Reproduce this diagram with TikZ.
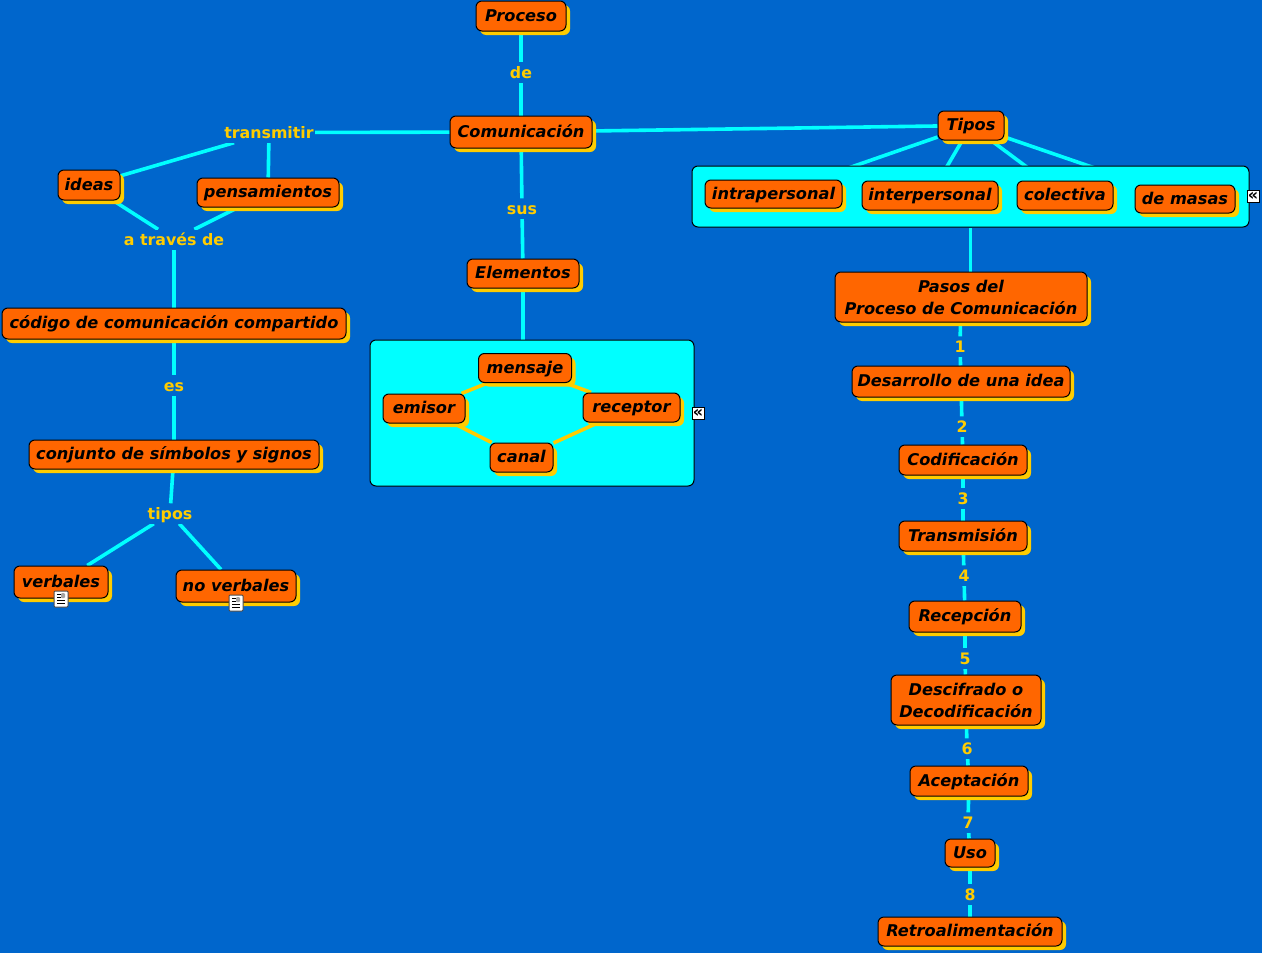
\documentclass[tikz,border=0pt]{standalone}
\usepackage{fontspec}
\setmainfont{DejaVu Sans}
\usepackage{tikz}
\usetikzlibrary{shadows}
\definecolor{bgblue}{HTML}{0066CC}
\definecolor{boxorange}{HTML}{FF6600}
\definecolor{boxgold}{HTML}{FFCC00}
\definecolor{wirecyan}{HTML}{00FFFF}
\pgfdeclarelayer{back}
\pgfdeclarelayer{panels}
\pgfdeclarelayer{inner}
\pgfsetlayers{back,panels,inner,main}
\tikzset{
    concept/.style={draw=black, fill=boxorange, rounded corners=6pt, line width=1pt, inner sep=0pt, align=center,
        text height=12.5pt, text depth=2pt,
        font=\fontsize{16.2}{22}\selectfont\bfseries\itshape, text=black,
        copy shadow={shadow xshift=4pt, shadow yshift=-4pt, fill=boxgold, draw=none}},
    twoline/.style={text height=, text depth=},
    linklabel/.style={fill=bgblue, inner xsep=1pt, inner ysep=0pt, minimum height=20pt, text=boxgold, text height=13pt, text depth=1pt,
        font=\fontsize{15.8}{18}\selectfont\bfseries},
    panel/.style={draw=black, fill=wirecyan, rounded corners=6pt, line width=1pt, inner sep=0pt},
    wire/.style={draw=wirecyan, line width=3.6pt},
    goldwire/.style={draw=boxgold, line width=3.6pt},
    collapse/.style={draw=black, fill=white, line width=1pt, minimum size=12pt, inner sep=0pt,
        font=\fontsize{16}{12}\selectfont\bfseries},
    docicon/.style={draw=black!70, fill=white, line width=1pt, minimum width=14pt, minimum height=16pt, inner sep=0pt, rounded corners=1pt,
        path picture={
            \fill[black!35] (path picture bounding box.north east) ++(-7pt,-2pt) rectangle ++(4pt,-5pt);
            \foreach \k in {3,6,9,12} \draw[black, line width=0.8pt] (path picture bounding box.north west) ++(3pt,-\k pt) -- ++(\ifnum\k<9 4\else 8\fi pt,0pt);
        }}
}
\begin{document}
\begin{tikzpicture}[x=1pt,y=-1pt]
    \path[use as bounding box] (0,0) rectangle (1262,953);
    \begin{pgfonlayer}{back}
        \fill[bgblue] (0,0) rectangle (1262,953);
    \end{pgfonlayer}

    % Center column
    \node[concept, minimum width=90pt, minimum height=30pt] (proceso) at (521,16) {Proceso};
    \node[linklabel] (de) at (521,72.5) {de};
    \node[concept, minimum width=142pt, minimum height=32pt] (comunicacion) at (521,132) {Comunicación};
    \node[linklabel] (sus) at (522,208.5) {sus};
    \node[concept, minimum width=112pt, minimum height=29pt] (elementos) at (523,273.5) {Elementos};

    % Elements box
    \begin{pgfonlayer}{panels}
        \node[panel, minimum width=324pt, minimum height=146pt] (elempanel) at (532,413) {};
    \end{pgfonlayer}
    \node[concept, minimum width=93pt, minimum height=29pt] (mensaje) at (525,368) {mensaje};
    \node[concept, minimum width=82pt, minimum height=29pt] (emisor) at (424,408.5) {emisor};
    \node[concept, minimum width=97pt, minimum height=29pt] (receptor) at (631.5,407.5) {receptor};
    \node[concept, minimum width=63pt, minimum height=29pt] (canal) at (521.5,457.5) {canal};
    \node[collapse] (elemicon) at (698,413) {«};

    % Left branch
    \node[linklabel] (transmitir) at (269,132.5) {transmitir};
    \node[concept, minimum width=62pt, minimum height=30pt] (ideas) at (89,185) {ideas};
    \node[concept, minimum width=142pt, minimum height=29pt] (pensamientos) at (268,192.5) {pensamientos};
    \node[linklabel] (atraves) at (174,239.5) {a través de};
    \node[concept, minimum width=344pt, minimum height=31pt] (codigo) at (174,323.5) {código de comunicación compartido};
    \node[linklabel] (es) at (174,385.5) {es};
    \node[concept, minimum width=290pt, minimum height=29pt] (conjunto) at (174,454.5) {conjunto de símbolos y signos};
    \node[linklabel] (tipos) at (170,513.5) {tipos};
    \node[concept, minimum width=94pt, minimum height=32pt] (verbales) at (61,582) {verbales};
    \node[concept, minimum width=120pt, minimum height=32pt] (noverbales) at (236,586) {no verbales};
    \node[docicon] (verbalesdoc) at (61,599) {};
    \node[docicon] (noverbalesdoc) at (236,603) {};

    % Types
    \node[concept, minimum width=66pt, minimum height=29pt] (tiposbox) at (971,125.5) {Tipos};
    \begin{pgfonlayer}{panels}
        \node[panel, minimum width=557pt, minimum height=61pt] (tipospanel) at (970.5,196.5) {};
    \end{pgfonlayer}
    \node[concept, minimum width=137pt, minimum height=28pt] (intra) at (773.5,194) {intrapersonal};
    \node[concept, minimum width=136pt, minimum height=29pt] (inter) at (930,195.5) {interpersonal};
    \node[concept, minimum width=96pt, minimum height=29pt] (colectiva) at (1065,195.5) {colectiva};
    \node[concept, minimum width=100pt, minimum height=28pt] (masas) at (1185,199) {de masas};
    \node[collapse] (tiposicon) at (1253,196) {«};

    % Steps
    \node[concept, twoline, minimum width=252pt, minimum height=50pt] (pasos) at (961,297) {Pasos del\\Proceso de Comunicación};
    \node[linklabel] (n1) at (960,346.5) {1};
    \node[concept, minimum width=218pt, minimum height=31pt] (desarrollo) at (961,381.5) {Desarrollo de una idea};
    \node[linklabel] (n2) at (962,426.5) {2};
    \node[concept, minimum width=128pt, minimum height=30pt] (codificacion) at (963,460) {Codificación};
    \node[linklabel] (n3) at (963,498.5) {3};
    \node[concept, minimum width=128pt, minimum height=30pt] (transmision) at (963,536) {Transmisión};
    \node[linklabel] (n4) at (964,575.5) {4};
    \node[concept, minimum width=112pt, minimum height=31pt] (recepcion) at (965,616.5) {Recepción};
    \node[linklabel] (n5) at (965,658.5) {5};
    \node[concept, twoline, minimum width=150pt, minimum height=50pt] (descifrado) at (966,700) {Descifrado o\\Decodificación};
    \node[linklabel] (n6) at (967,748.5) {6};
    \node[concept, minimum width=118pt, minimum height=30pt] (aceptacion) at (969,781) {Aceptación};
    \node[linklabel] (n7) at (968,822.5) {7};
    \node[concept, minimum width=50pt, minimum height=28pt] (uso) at (970,853) {Uso};
    \node[linklabel] (n8) at (970,894.5) {8};
    \node[concept, minimum width=184pt, minimum height=29pt] (retro) at (970,931.5) {Retroalimentación};

    % Connectors
    \begin{pgfonlayer}{back}
        \foreach \a/\b in {proceso/de, de/comunicacion, comunicacion/sus, sus/elementos,
            comunicacion/transmitir, comunicacion/tiposbox,
            transmitir/ideas, transmitir/pensamientos, ideas/atraves, pensamientos/atraves,
            atraves/codigo, codigo/es, es/conjunto, conjunto/tipos, tipos/verbales, tipos/noverbales,
            tiposbox/intra, tiposbox/inter, tiposbox/colectiva, tiposbox/masas,
            pasos/n1, n1/desarrollo, desarrollo/n2, n2/codificacion, codificacion/n3, n3/transmision,
            transmision/n4, n4/recepcion, recepcion/n5, n5/descifrado, descifrado/n6, n6/aceptacion,
            aceptacion/n7, n7/uso, uso/n8, n8/retro}
            \draw[wire] (\a) -- (\b);
        \draw[wire] (elementos) -- (elementos |- elempanel.north);
        \draw[wire] (tipospanel.south) -- (tipospanel.south |- pasos.north);
    \end{pgfonlayer}
    \begin{pgfonlayer}{inner}
        \foreach \a/\b in {emisor/mensaje, mensaje/receptor, receptor/canal, canal/emisor}
            \draw[goldwire] (\a) -- (\b);
    \end{pgfonlayer}
\end{tikzpicture}
\end{document}
